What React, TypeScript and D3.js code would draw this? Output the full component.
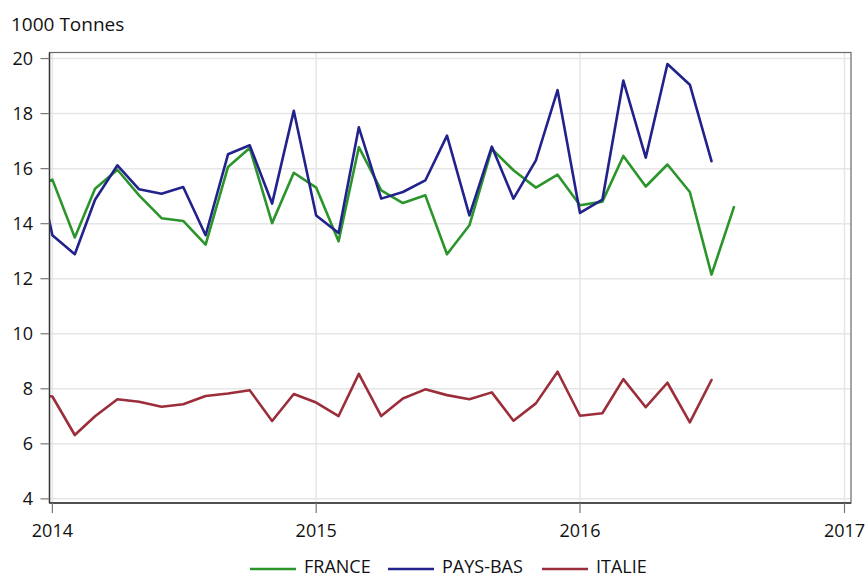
import React from "react";
import * as d3 from "d3";

const startMonth = new Date(2013, 11, 1);
const france = [15.2, 15.6, 13.5, 15.27, 15.96, 15.03, 14.2, 14.1, 13.24, 16.06, 16.75, 14.02, 15.85, 15.31, 13.36, 16.78, 15.21, 14.75, 15.03, 12.89, 13.94, 16.72, 15.94, 15.31, 15.78, 14.67, 14.8, 16.46, 15.35, 16.15, 15.15, 12.15, 14.6];
const paysBas = [17.3, 13.58, 12.89, 14.87, 16.12, 15.25, 15.09, 15.33, 13.58, 16.52, 16.85, 14.73, 18.1, 14.3, 13.66, 17.5, 14.91, 15.15, 15.57, 17.2, 14.3, 16.8, 14.91, 16.3, 18.85, 14.39, 14.87, 19.2, 16.4, 19.8, 19.05, 16.27];
const italie = [7.8, 7.72, 6.32, 7.0, 7.62, 7.53, 7.35, 7.44, 7.74, 7.83, 7.95, 6.83, 7.81, 7.5, 7.01, 8.54, 7.01, 7.65, 7.98, 7.77, 7.62, 7.87, 6.84, 7.47, 8.62, 7.02, 7.11, 8.35, 7.33, 8.22, 6.78, 8.32];
const yTicks = [4, 6, 8, 10, 12, 14, 16, 18, 20];
const xTickYears = [2014, 2015, 2016, 2017];
const seriesNames = ["FRANCE", "PAYS-BAS", "ITALIE"];
const seriesColors = ["#2b952b", "#22228c", "#9b2e3a"];

const W = 866, H = 578;
const L = 49.5, R = 851, T = 52.5, B = 503;
const FONT = "'Open Sans', 'DejaVu Sans', sans-serif";

export default function App() {
  const x = d3.scaleTime().domain([new Date(2013, 11, 28), new Date(2017, 0, 10)]).range([L, R]);
  const y = d3.scaleLinear().domain([3.85, 20.22]).range([B, T]);
  const series = [france, paysBas, italie];
  const line = d3
    .line<number>()
    .x((_, i) => x(d3.timeMonth.offset(startMonth, i)))
    .y((d) => y(d))
    .curve(d3.curveLinear);

  const legendItems = [
    { lx: 250, tx: 304 },
    { lx: 388, tx: 442 },
    { lx: 542, tx: 596 },
  ];
  const LY = 567;

  return (
    <svg width={W} height={H} style={{ position: "absolute", left: 0, top: 0, background: "#fff" }} fontFamily={FONT}>
      <defs>
        <clipPath id="plot">
          <rect x={L} y={T} width={R - L} height={B - T} />
        </clipPath>
      </defs>
      <rect x={0} y={0} width={W} height={H} fill="#fff" />
      {/* grid */}
      {yTicks.map((t) => (
        <line key={"gy" + t} x1={L} x2={R} y1={y(t)} y2={y(t)} stroke="#e6e6e6" strokeWidth={1.5} />
      ))}
      {xTickYears.map((yr) => (
        <line key={"gx" + yr} x1={x(new Date(yr, 0, 1))} x2={x(new Date(yr, 0, 1))} y1={T} y2={B} stroke="#e6e6e6" strokeWidth={1.5} />
      ))}
      {/* lines */}
      <g clipPath="url(#plot)">
        {series.map((s, i) => (
          <path key={i} d={line(s) || ""} fill="none" stroke={seriesColors[i]} strokeWidth={2.6} strokeLinejoin="round" strokeLinecap="round" />
        ))}
      </g>
      {/* frame */}
      <rect x={L} y={T} width={R - L} height={B - T} fill="none" stroke="#6a6a6a" strokeWidth={1.2} />
      <line x1={L} x2={L} y1={T} y2={B} stroke="#333" strokeWidth={1.4} />
      <line x1={L} x2={R} y1={B} y2={B} stroke="#333" strokeWidth={1.4} />
      {/* y ticks */}
      {yTicks.map((t) => (
        <g key={"yt" + t}>
          <line x1={L - 9} x2={L} y1={y(t)} y2={y(t)} stroke="#777" strokeWidth={1.2} />
          <text x={33} y={y(t)} dy="0.35em" textAnchor="end" fontSize={18} fill="#111">
            {t}
          </text>
        </g>
      ))}
      {/* x ticks */}
      {xTickYears.map((yr) => {
        const px = x(new Date(yr, 0, 1));
        return (
          <g key={"xt" + yr}>
            <line x1={px} x2={px} y1={B} y2={B + 10} stroke="#777" strokeWidth={1.2} />
            <text x={px} y={537} textAnchor="middle" fontSize={18} fill="#111">
              {yr}
            </text>
          </g>
        );
      })}
      {/* y title */}
      <text x={11} y={31} fontSize={19} fill="#111">
        1000 Tonnes
      </text>
      {/* legend */}
      {seriesNames.map((n, i) => (
        <g key={n}>
          <line x1={legendItems[i].lx} x2={legendItems[i].lx + 46} y1={LY + 2} y2={LY + 2} stroke={seriesColors[i]} strokeWidth={2.6} />
          <text x={legendItems[i].tx} y={LY} dy="0.36em" fontSize={18} fill="#111">
            {n}
          </text>
        </g>
      ))}
    </svg>
  );
}
